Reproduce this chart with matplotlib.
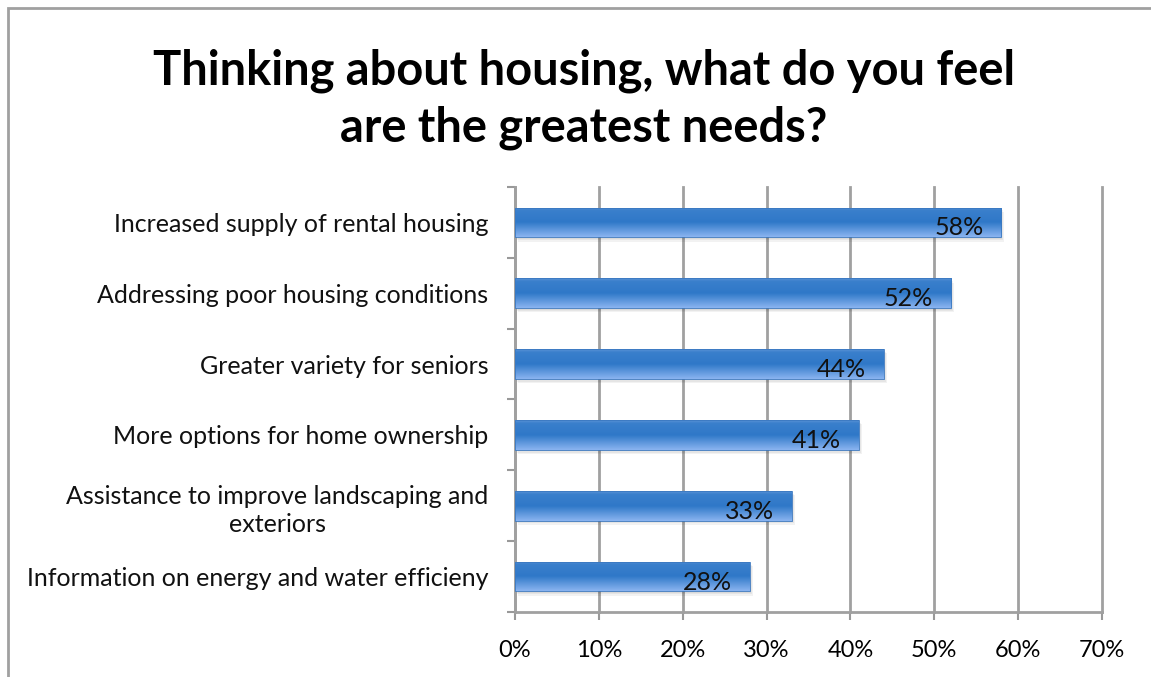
import numpy as np
import matplotlib.pyplot as plt
from matplotlib.patches import Rectangle
from matplotlib.colors import LinearSegmentedColormap

# 调查结果数据
categories = ["Increased supply of rental housing",
              "Addressing poor housing conditions",
              "Greater variety for seniors",
              "More options for home ownership",
              "Assistance to improve landscaping and\nexteriors",
              "Information on energy and water efficieny"]
values = [58, 52, 44, 41, 33, 28]
xticks = [0, 10, 20, 30, 40, 50, 60, 70]
xtick_labels = ["0%", "10%", "20%", "30%", "40%", "50%", "60%", "70%"]
title = "Thinking about housing, what do you feel\nare the greatest needs?"

plt.rcParams['font.family'] = ['Lato', 'DejaVu Sans']

fig = plt.figure(figsize=(11.51, 6.77), dpi=100)
ax = fig.add_axes([515/1151, 1-612/677, (1102-515)/1151, (612-187)/677])

# 外框（只露出左边和上边）
fig.patches.append(Rectangle((8/1151, -0.1), 1.2, 1-8/677+0.1, transform=fig.transFigure,
                             fill=False, edgecolor='#a0a0a0', linewidth=2, zorder=0))

fig.text(584/1151, 1-99/677, title, ha='center', va='center', fontsize=33.8,
         fontweight='bold', linespacing=1.35)

n = len(categories)
ypos = np.arange(n)[::-1]
bar_h = 0.42

# 渐变色：上深下浅
grad = LinearSegmentedColormap.from_list('g', [(0, '#8ab4f0'), (0.5, '#2f78c8'),
                                              (0.9, '#3a7fcc'), (1, '#5b93d6')])
gimg = np.linspace(0, 1, 100).reshape(-1, 1)

for y, v in zip(ypos, values):
    # 柔和阴影
    for k, a in enumerate([0.05, 0.05, 0.05]):
        d = 0.1 + 0.12 * k
        ax.add_patch(Rectangle((d, y - bar_h/2 - 0.02 - 0.02 * k), v, bar_h, facecolor='#000000',
                               alpha=a, edgecolor='none', zorder=2))
    rect = Rectangle((0, y - bar_h/2), v, bar_h, facecolor='none',
                     edgecolor='#3a78c0', linewidth=0.6, zorder=4)
    ax.add_patch(rect)
    im = ax.imshow(gimg, cmap=grad, aspect='auto', origin='lower',
                   extent=(0, v, y - bar_h/2, y + bar_h/2), zorder=3)
    im.set_clip_path(rect)
    ax.annotate(f"{v}%", (v, y), xytext=(-13, -4), textcoords='offset points',
                ha='right', va='center', fontsize=18, color='#111111', zorder=5)

ax.set_xlim(0, 70)
ax.set_ylim(-0.5, n - 0.5)
ax.set_xticks(xticks)
ax.set_xticklabels(xtick_labels, fontsize=17)
ax.set_yticks(ypos)
ax.set_yticklabels(categories, fontsize=18, color='#111111', linespacing=1.3)
ax.set_yticks(np.arange(n + 1) - 0.5, minor=True)
ax.tick_params(axis='y', which='major', length=0, pad=19)
ax.tick_params(axis='y', which='minor', length=6, width=1.5, color='#999999')
ax.tick_params(axis='x', length=6, width=1.5, color='#999999', pad=14)
for lab in ax.get_yticklabels():
    lab.set_horizontalalignment('right')
    lab.set_multialignment('center')

ax.grid(axis='x', color='#a0a0a0', linewidth=2, zorder=1)
ax.set_axisbelow(True)
for gl in ax.get_xgridlines():
    gl.set_clip_on(False)
for s in ['top', 'right']:
    ax.spines[s].set_visible(False)
for s in ['left', 'bottom']:
    ax.spines[s].set_color('#a0a0a0')
    ax.spines[s].set_linewidth(2)

fig.savefig('out.png', dpi=100)
